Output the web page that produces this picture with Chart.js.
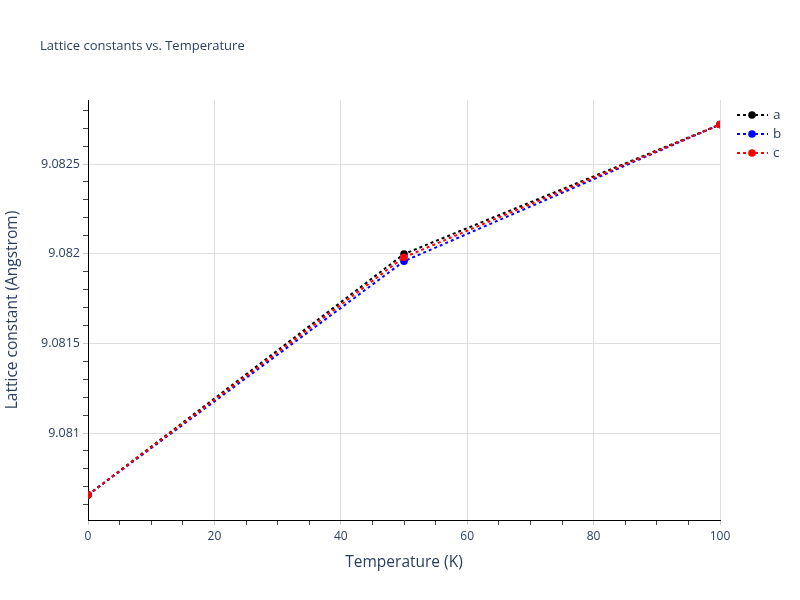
<!DOCTYPE html>
<html>
<head>
<meta charset="utf-8">
<script src="https://cdn.jsdelivr.net/npm/chart.js"></script>
<style>
  html, body { margin: 0; padding: 0; background: #fff; }
  #wrap { width: 800px; height: 600px; position: relative; }
</style>
</head>
<body>
<div id="wrap"><canvas id="latticeChart" width="800" height="600"></canvas></div>
<script>
// data
const temperatures = [0, 50, 100];
const seriesA = [9.080655, 9.081998, 9.08272];
const seriesB = [9.080655, 9.081958, 9.08272];
const seriesC = [9.080655, 9.08198, 9.08272];

const xMajorTicks = [0, 20, 40, 60, 80, 100];
const xTickLabels = ['0', '20', '40', '60', '80', '100'];
const xMinorStep = 5;
const yMajorTicks = [9.081, 9.0815, 9.082, 9.0825];
const yTickLabels = ['9.081', '9.0815', '9.082', '9.0825'];
const yMinorStep = 0.0001;

const yMin = 9.080515, yMax = 9.082857;
const fontFamily = '"Open Sans", "Liberation Sans", sans-serif';
const textColor = '#2a3f5f';

function majorIndex(list, v) {
    return list.findIndex(m => Math.abs(m - v) < 1e-9);
}

function stepTicks(min, max, step) {
    const out = [];
    const first = Math.ceil(min / step - 1e-9);
    const last = Math.floor(max / step + 1e-9);
    for (let i = first; i <= last; i++) out.push({ value: +(i * step).toFixed(6) });
    return out;
}

const overlay = {
    id: 'overlay',
    afterDraw(chart) {
        const ctx = chart.ctx;
        ctx.save();
        ctx.fillStyle = textColor;
        ctx.font = '13px ' + fontFamily;
        ctx.textBaseline = 'middle';
        ctx.textAlign = 'left';
        ctx.fillText('Lattice constants vs. Temperature', 40, 46);

        // legend
        chart.data.datasets.forEach((ds, i) => {
            const y = 115 + i * 19;
            ctx.strokeStyle = ds.borderColor;
            ctx.lineWidth = 2;
            ctx.setLineDash([3, 3]);
            ctx.beginPath();
            ctx.moveTo(737, y);
            ctx.lineTo(768, y);
            ctx.stroke();
            ctx.setLineDash([]);
            ctx.fillStyle = ds.borderColor;
            ctx.beginPath();
            ctx.arc(752, y, 3.8, 0, Math.PI * 2);
            ctx.fill();
            ctx.fillStyle = textColor;
            ctx.font = '13.5px ' + fontFamily;
            ctx.fillText(ds.label, 773, y);
        });
        ctx.restore();
    }
};

function makeDataset(label, values, color, order) {
    return {
        label: label,
        data: values,
        borderColor: color,
        backgroundColor: color,
        borderWidth: 2,
        borderDash: [3, 3],
        pointRadius: 3.8,
        pointBorderWidth: 0,
        pointBackgroundColor: color,
        fill: false,
        tension: 0,
        order: order
    };
}

new Chart(document.getElementById('latticeChart'), {
    type: 'line',
    data: {
        labels: temperatures,
        datasets: [
            makeDataset('a', seriesA, '#000000', 2),
            makeDataset('b', seriesB, '#0000ff', 1),
            makeDataset('c', seriesC, '#ff0000', 0)
        ]
    },
    options: {
        responsive: false,
        animation: false,
        layout: { padding: { left: 0, right: 80, top: 100, bottom: 0 } },
        plugins: {
            legend: { display: false },
            title: { display: false },
            tooltip: { enabled: false }
        },
        scales: {
            x: {
                type: 'linear',
                min: 0,
                max: 100,
                afterFit(scale) { scale.height = 80; },
                afterBuildTicks(scale) { scale.ticks = stepTicks(0, 100, xMinorStep); },
                border: { color: '#000', width: 1 },
                grid: {
                    tickLength: 5,
                    color: c => (c.tick && majorIndex(xMajorTicks, c.tick.value) > 0) ? '#dedede' : 'rgba(0,0,0,0)',
                    tickColor: c => (c.tick && majorIndex(xMajorTicks, c.tick.value) >= 0) ? '#cccccc' : '#444'
                },
                ticks: {
                    autoSkip: false,
                    maxRotation: 0,
                    padding: 4,
                    color: textColor,
                    font: { family: fontFamily, size: 12 },
                    callback: v => {
                        const i = majorIndex(xMajorTicks, v);
                        return i >= 0 ? xTickLabels[i] : '';
                    }
                },
                title: {
                    display: true,
                    text: 'Temperature (K)',
                    color: textColor,
                    font: { family: fontFamily, size: 15.5 },
                    padding: { top: 0, bottom: 28 }
                }
            },
            y: {
                type: 'linear',
                min: yMin,
                max: yMax,
                afterFit(scale) { scale.width = 88; },
                afterBuildTicks(scale) { scale.ticks = stepTicks(yMin, yMax, yMinorStep); },
                border: { color: '#000', width: 1 },
                grid: {
                    tickLength: 5,
                    color: c => (c.tick && majorIndex(yMajorTicks, c.tick.value) >= 0) ? '#dedede' : 'rgba(0,0,0,0)',
                    tickColor: c => (c.tick && majorIndex(yMajorTicks, c.tick.value) >= 0) ? '#cccccc' : '#444'
                },
                ticks: {
                    autoSkip: false,
                    padding: 3,
                    color: textColor,
                    font: { family: fontFamily, size: 12.5 },
                    callback: v => {
                        const i = majorIndex(yMajorTicks, v);
                        return i >= 0 ? yTickLabels[i] : '';
                    }
                },
                title: {
                    display: true,
                    text: 'Lattice constant (Angstrom)',
                    color: textColor,
                    font: { family: fontFamily, size: 15.5 },
                    padding: { top: 3, bottom: 0 }
                }
            }
        }
    },
    plugins: [overlay]
});
</script>
</body>
</html>
